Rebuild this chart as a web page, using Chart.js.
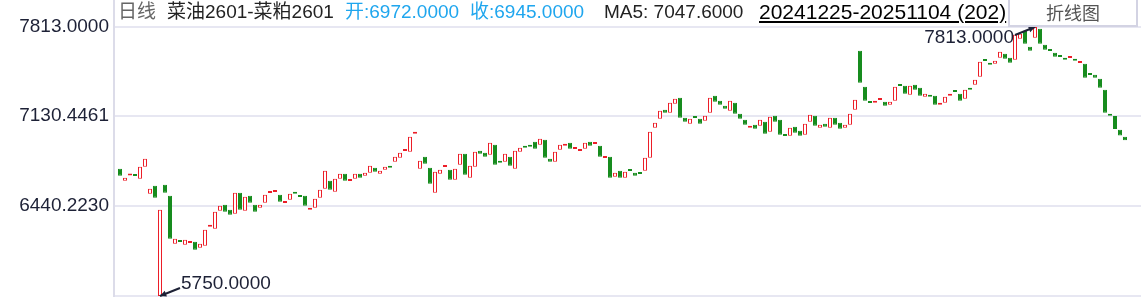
<!DOCTYPE html>
<html>
<head>
<meta charset="utf-8">
<script src="https://cdn.jsdelivr.net/npm/chart.js@4.4.1/dist/chart.umd.min.js"></script>
<style>
    html, body { margin: 0; padding: 0; background: #fff; }
    #wrap { position: relative; width: 1147px; height: 297px; overflow: hidden; }
    #kline { position: absolute; left: 0; top: 0; }
    .hd { position: absolute; top: 0; height: 24px; line-height: 24px; white-space: nowrap;
          font-family: "Liberation Sans", "Noto Sans CJK SC", sans-serif; font-size: 19px; }
    .vline { position: absolute; left: 113px; top: 0; width: 2px; height: 297px; background: #dcdce9; }
    #btn { position: absolute; left: 1008px; top: -2px; width: 126px; height: 25px; border: 2px solid #d3d3e3;
           background: #fff; text-align: center; line-height: 25px; color: #555;
           font-family: "Noto Sans CJK SC", sans-serif; font-size: 18px; }
</style>
</head>
<body>
<div id="wrap">
    <canvas id="kline" width="1147" height="297"></canvas>
    <div class="vline"></div>
    <div class="hd" style="left:118px;color:#666">日线</div>
    <div class="hd" style="left:167px;color:#222">菜油2601-菜粕2601</div>
    <div class="hd" style="left:345px;color:#1fa6ee">开:6972.0000</div>
    <div class="hd" style="left:470px;color:#1fa6ee">收:6945.0000</div>
    <div class="hd" style="left:604px;color:#222">MA5: 7047.6000</div>
    <div class="hd" style="left:759px;color:#000;font-size:21px;text-decoration:underline">20241225-20251104 (202)</div>
    <div id="btn">折线图</div>
</div>
<script>
document.addEventListener('DOMContentLoaded', function() {
    // daily open / close, 20241225 - 20251104
    const opens = [
        6726, 6634, 6674, 6674, 6649, 6741, 6534, 6595, 5750, 6603,
        6519, 6150, 6168, 6143, 6156, 6166, 6120, 6135, 6281, 6266,
        6404, 6450, 6411, 6381, 6542, 6404, 6519, 6450, 6427, 6465,
        6540, 6547, 6526, 6463, 6488, 6549, 6513, 6519, 6411, 6427,
        6503, 6572, 6634, 6549, 6649, 6687, 6632, 6649, 6687, 6672,
        6695, 6733, 6687, 6718, 6749, 6780, 6810, 6862, 6856, 6994,
        6726, 6818, 6733, 6542, 6687, 6739, 6718, 6642, 6756, 6841,
        6657, 6741, 6864, 6849, 6833, 6910, 6787, 6780, 6818, 6726,
        6856, 6895, 6910, 6933, 6910, 6948, 6802, 6780, 6872, 6902,
        6925, 6877, 6862, 6879, 6933, 6916, 6902, 6808, 6818, 6664,
        6710, 6657, 6712, 6695, 6689, 6710, 6810, 7040, 7109, 7178,
        7155, 7224, 7270, 7117, 7071, 7119, 7109, 7094, 7155, 7286,
        7247, 7209, 7171, 7232, 7148, 7102, 7040, 7063, 7056, 7086,
        7010, 7132, 7102, 6981, 6979, 7048, 7017, 6987, 7086, 7132,
        7040, 7071, 7040, 7117, 7079, 7040, 7063, 7178, 7631, 7355,
        7234, 7232, 7253, 7240, 7217, 7247, 7364, 7362, 7293, 7370,
        7347, 7278, 7293, 7286, 7217, 7232, 7286, 7318, 7301, 7263,
        7347, 7370, 7431, 7556, 7539, 7531, 7577, 7608, 7577, 7562,
        7723, 7784, 7662, 7731, 7800, 7677, 7633, 7616, 7587, 7577,
        7575, 7569, 7537, 7531, 7449, 7447, 7416, 7332, 7140, 7130,
        7025, 6972
    ];
    const closes = [
        6672, 6657, 6678, 6670, 6741, 6802, 6572, 6503, 6411, 6542,
        6189, 6189, 6164, 6181, 6160, 6105, 6150, 6258, 6296, 6396,
        6442, 6396, 6373, 6542, 6411, 6511, 6465, 6396, 6450, 6526,
        6544, 6551, 6473, 6467, 6534, 6534, 6509, 6442, 6427, 6496,
        6565, 6710, 6565, 6649, 6687, 6634, 6636, 6687, 6657, 6695,
        6749, 6703, 6710, 6741, 6733, 6818, 6849, 6866, 6971, 7010,
        6787, 6764, 6611, 6703, 6718, 6743, 6642, 6726, 6841, 6680,
        6749, 6856, 6841, 6818, 6925, 6756, 6772, 6841, 6749, 6864,
        6887, 6887, 6895, 6879, 6956, 6810, 6780, 6856, 6910, 6918,
        6879, 6881, 6866, 6925, 6902, 6920, 6818, 6812, 6657, 6695,
        6657, 6703, 6708, 6672, 6685, 6810, 7010, 7079, 7171, 7155,
        7232, 7263, 7117, 7086, 7109, 7115, 7071, 7132, 7270, 7240,
        7217, 7186, 7247, 7148, 7109, 7063, 7048, 7033, 7102, 6994,
        7125, 7086, 6987, 6977, 7040, 7002, 6979, 7071, 7140, 7056,
        7063, 7048, 7117, 7063, 7033, 7063, 7148, 7255, 7385, 7247,
        7230, 7247, 7257, 7209, 7240, 7355, 7360, 7301, 7362, 7332,
        7286, 7301, 7278, 7217, 7232, 7278, 7301, 7314, 7247, 7332,
        7332, 7408, 7547, 7552, 7524, 7554, 7623, 7569, 7539, 7754,
        7761, 7685, 7631, 7813, 7685, 7639, 7629, 7585, 7583, 7562,
        7579, 7554, 7541, 7424, 7445, 7424, 7347, 7155, 7133, 7030,
        6980, 6945
    ];
    const yTicks = [7813, 7130.4461, 6440.2230, 5750];
    const yTickLabels = ['7813.0000', '7130.4461', '6440.2230', ''];
    const lowMark = { index: 8, value: 5750, text: '5750.0000' };
    const highMark = { index: 183, value: 7813, text: '7813.0000' };

    const RED = '#ec1e28';
    const GREEN = '#178c1e';
    const INK = '#1d2136';

    const candles = opens.map((o, i) => ({ x: i, y: [o, closes[i]] }));
    const up = opens.map((o, i) => closes[i] >= o);

    // arrows to the period high / low
    const markPlugin = {
        id: 'marks',
        afterDatasetsDraw(chart) {
            const ctx = chart.ctx;
            const xs = chart.scales.x, ys = chart.scales.y;
            ctx.save();
            ctx.font = '19px "Liberation Sans", sans-serif';
            ctx.fillStyle = INK;
            ctx.strokeStyle = INK;
            ctx.lineWidth = 2;

            let tx = xs.getPixelForValue(lowMark.index), ty = ys.getPixelForValue(lowMark.value);
            drawArrow(ctx, tx + 20, ty - 8, tx, ty);
            ctx.textAlign = 'left';
            ctx.textBaseline = 'middle';
            ctx.fillText(lowMark.text, tx + 21, ty - 12);

            tx = xs.getPixelForValue(highMark.index); ty = ys.getPixelForValue(highMark.value);
            drawArrow(ctx, tx - 20, ty + 8, tx, ty);
            ctx.textAlign = 'right';
            ctx.fillText(highMark.text, tx - 21, ty + 11);
            ctx.restore();
        }
    };

    function drawArrow(ctx, x0, y0, x1, y1) {
        ctx.beginPath();
        ctx.moveTo(x0, y0);
        ctx.lineTo(x1, y1);
        ctx.stroke();
        const a = Math.atan2(y1 - y0, x1 - x0);
        ctx.beginPath();
        ctx.moveTo(x1, y1);
        ctx.lineTo(x1 - 7 * Math.cos(a - 0.45), y1 - 7 * Math.sin(a - 0.45));
        ctx.lineTo(x1 - 7 * Math.cos(a + 0.45), y1 - 7 * Math.sin(a + 0.45));
        ctx.closePath();
        ctx.fill();
    }

    new Chart(document.getElementById('kline'), {
        type: 'bar',
        data: {
            datasets: [{
                data: candles,
                backgroundColor: up.map(u => u ? '#ffffff' : GREEN),
                borderColor: up.map(u => u ? RED : GREEN),
                borderWidth: 1,
                borderSkipped: false,
                inflateAmount: 0,
                barThickness: 4,
                minBarLength: 2
            }]
        },
        options: {
            responsive: false,
            animation: false,
            events: [],
            layout: { padding: { top: 27, right: 6, bottom: 1, left: 0 } },
            plugins: { legend: { display: false }, tooltip: { enabled: false } },
            scales: {
                x: {
                    type: 'linear',
                    offset: false,
                    min: -1.2,
                    max: 204.2,
                    display: false
                },
                y: {
                    min: 5750,
                    max: 7813,
                    afterBuildTicks: s => { s.ticks = yTicks.map(v => ({ value: v })); },
                    afterFit: s => { s.width = 114; s.paddingTop = 0; s.paddingBottom = 0; },
                    border: { display: false },
                    grid: { color: '#e7e7f2', lineWidth: 2, drawTicks: false },
                    ticks: {
                        padding: 5,
                        color: INK,
                        font: { family: '"Liberation Sans", sans-serif', size: 19 },
                        callback: (v, i) => yTickLabels[i]
                    }
                }
            }
        },
        plugins: [markPlugin]
    });
});
</script>
</body>
</html>
